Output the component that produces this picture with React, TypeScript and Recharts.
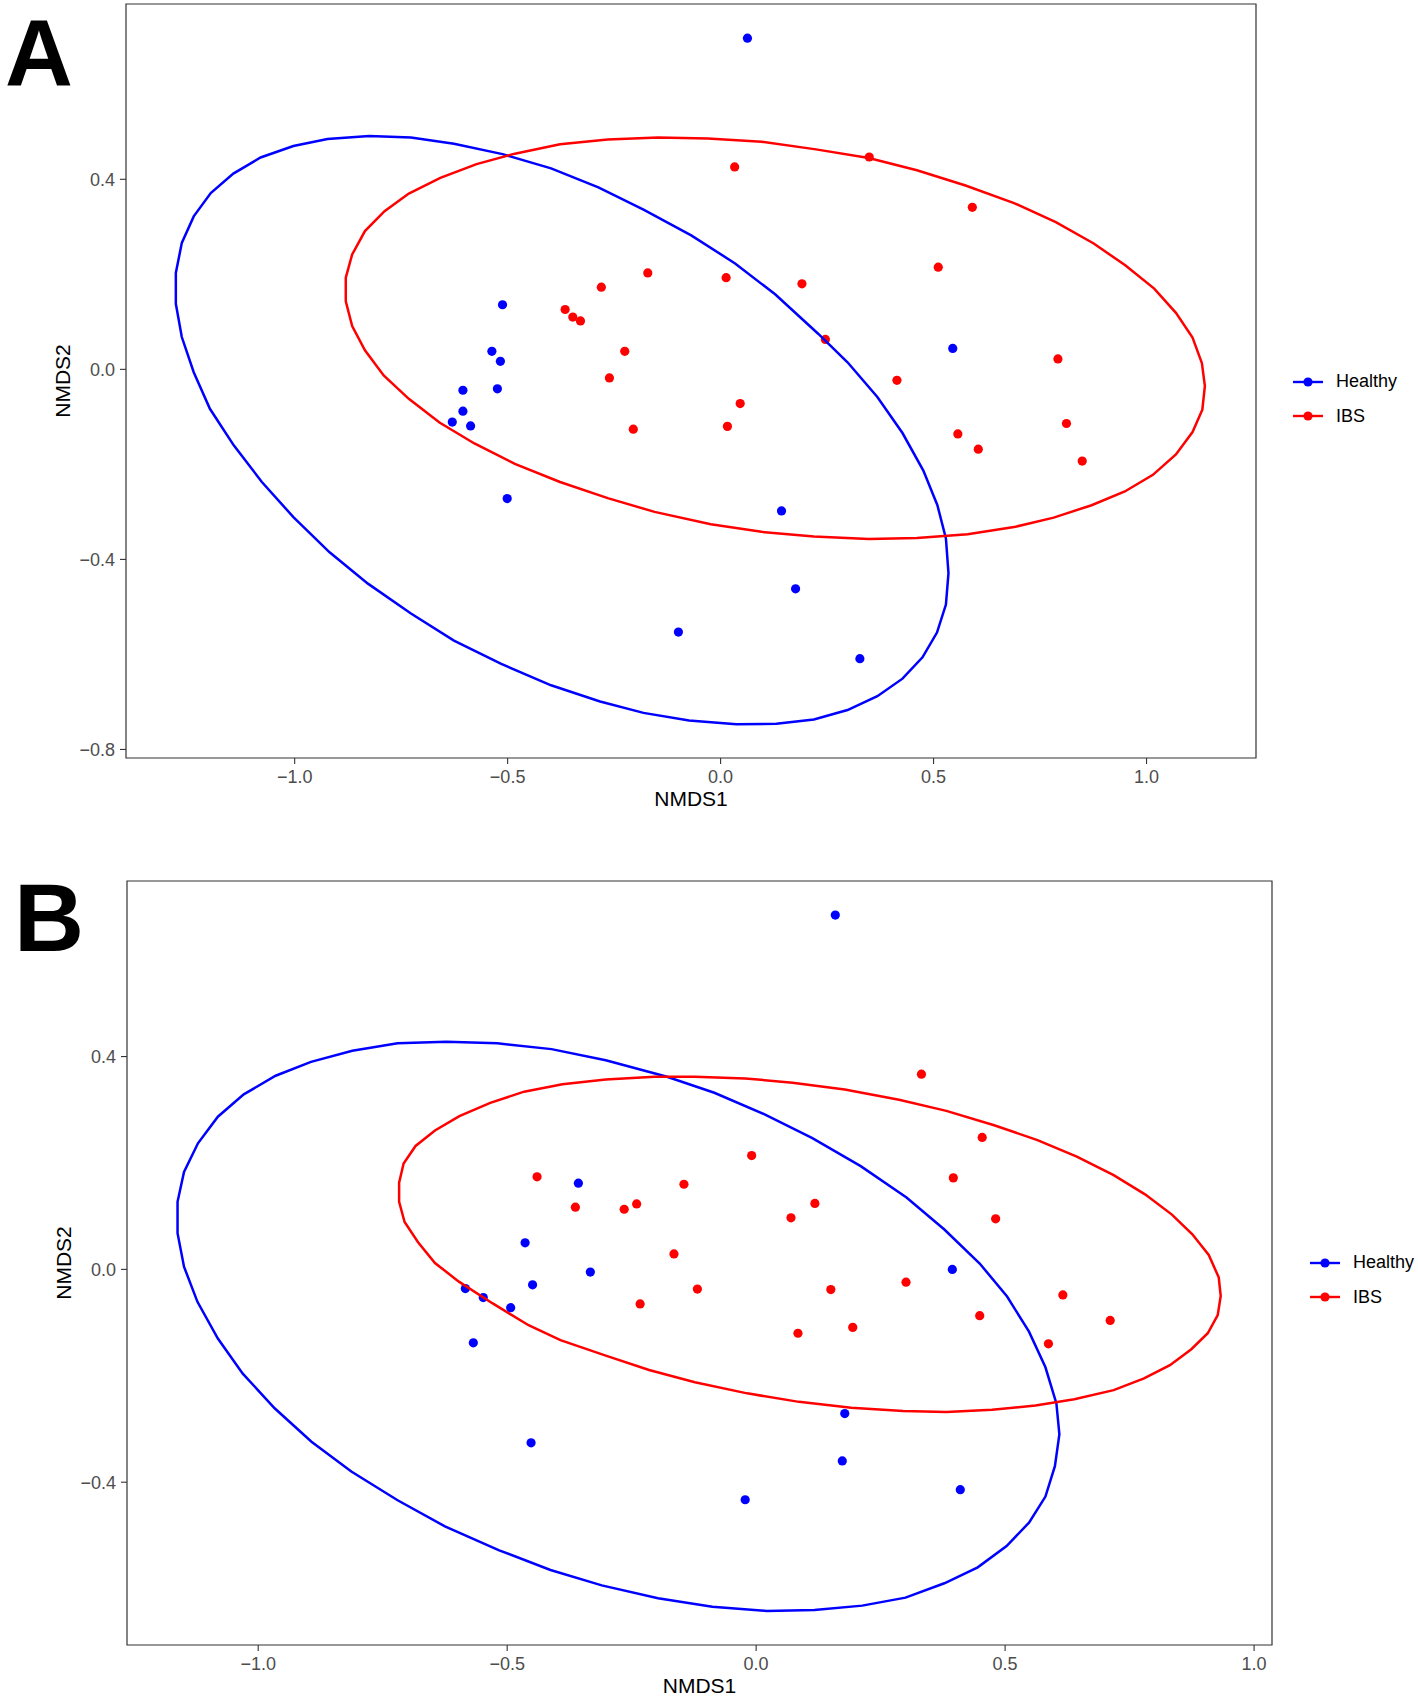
import React from 'react';
import { ScatterChart, Scatter, XAxis, YAxis, ReferenceArea, Legend } from 'recharts';

const BLUE = '#0000FF';
const RED = '#FF0000';
const FONT = '"Liberation Sans", Arial, Helvetica, sans-serif';

const groupNames = ['Healthy', 'IBS'];
const groupColors = [BLUE, RED];

// ---- panel A: NMDS scores ----
const healthyA = [
  [0.063, 0.697], [-0.512, 0.136], [-0.537, 0.038], [-0.517, 0.017], [-0.605, -0.044],
  [-0.524, -0.041], [-0.605, -0.088], [-0.630, -0.111], [-0.587, -0.119], [-0.501, -0.272],
  [-0.099, -0.553], [0.545, 0.044], [0.143, -0.298], [0.176, -0.462], [0.327, -0.609],
];
const ibsA = [
  [-0.171, 0.203], [-0.280, 0.173], [-0.365, 0.126], [-0.347, 0.110], [-0.329, 0.102],
  [-0.225, 0.038], [-0.261, -0.018], [-0.205, -0.126], [0.033, 0.426], [0.349, 0.447],
  [0.591, 0.341], [0.511, 0.215], [0.013, 0.193], [0.191, 0.180], [0.246, 0.063],
  [0.792, 0.022], [0.414, -0.023], [0.046, -0.072], [0.016, -0.120], [0.557, -0.136],
  [0.605, -0.168], [0.812, -0.114], [0.849, -0.193],
];
// ellipse outlines (stat_ellipse polygons)
const ellHealthyA = [
  [-0.825, 0.491], [-0.727, 0.488], [-0.626, 0.475], [-0.512, 0.453], [-0.398, 0.423],
  [-0.287, 0.383], [-0.181, 0.336], [-0.069, 0.282], [0.034, 0.223], [0.128, 0.158],
  [0.229, 0.075], [0.298, 0.015], [0.368, -0.058], [0.427, -0.134], [0.476, -0.213],
  [0.509, -0.286], [0.529, -0.356], [0.535, -0.429], [0.529, -0.495], [0.508, -0.554],
  [0.474, -0.606], [0.427, -0.651], [0.368, -0.688], [0.298, -0.717], [0.219, -0.737],
  [0.131, -0.746], [0.037, -0.747], [-0.074, -0.739], [-0.181, -0.723], [-0.283, -0.699],
  [-0.398, -0.665], [-0.515, -0.620], [-0.626, -0.571], [-0.727, -0.514], [-0.828, -0.451],
  [-0.918, -0.385], [-1.003, -0.311], [-1.077, -0.237], [-1.143, -0.160], [-1.199, -0.083],
  [-1.237, -0.006], [-1.265, 0.068], [-1.279, 0.138], [-1.279, 0.203], [-1.265, 0.266],
  [-1.237, 0.322], [-1.197, 0.371], [-1.144, 0.412], [-1.080, 0.446], [-1.003, 0.470],
  [-0.923, 0.485],
];
const ellIbsA = [
  [-0.030, 0.486], [0.096, 0.479], [0.224, 0.463], [0.348, 0.445], [0.461, 0.419],
  [0.575, 0.387], [0.689, 0.350], [0.787, 0.310], [0.876, 0.265], [0.950, 0.219],
  [1.018, 0.170], [1.069, 0.119], [1.108, 0.067], [1.130, 0.013], [1.137, -0.035],
  [1.131, -0.085], [1.108, -0.132], [1.069, -0.179], [1.015, -0.222], [0.949, -0.257],
  [0.871, -0.286], [0.782, -0.312], [0.689, -0.332], [0.580, -0.347], [0.461, -0.355],
  [0.348, -0.357], [0.219, -0.352], [0.096, -0.342], [-0.023, -0.326], [-0.155, -0.300],
  [-0.265, -0.271], [-0.377, -0.237], [-0.483, -0.199], [-0.578, -0.156], [-0.660, -0.112],
  [-0.732, -0.062], [-0.791, -0.013], [-0.835, 0.040], [-0.865, 0.091], [-0.880, 0.143],
  [-0.880, 0.193], [-0.865, 0.242], [-0.835, 0.291], [-0.789, 0.333], [-0.732, 0.370],
  [-0.658, 0.403], [-0.573, 0.432], [-0.483, 0.454], [-0.377, 0.474], [-0.265, 0.484],
  [-0.147, 0.488],
];
const xTicksA = [-1.0, -0.5, 0.0, 0.5, 1.0];
const yTicksA = [-0.8, -0.4, 0.0, 0.4];
const xDomainA = [-1.396, 1.257];
const yDomainA = [-0.818, 0.769];

// ---- panel B: NMDS scores ----
const healthyB = [
  [0.159, 0.666], [-0.357, 0.162], [-0.464, 0.050], [-0.333, -0.005], [-0.449, -0.029],
  [-0.584, -0.036], [-0.548, -0.053], [-0.493, -0.072], [-0.568, -0.138], [-0.452, -0.326],
  [0.394, 0.000], [0.178, -0.271], [0.173, -0.360], [-0.022, -0.433], [0.410, -0.414],
];
const ibsB = [
  [-0.440, 0.174], [-0.145, 0.160], [-0.363, 0.117], [-0.265, 0.113], [-0.240, 0.123],
  [-0.165, 0.029], [-0.233, -0.065], [-0.118, -0.037], [0.332, 0.367], [0.454, 0.248],
  [-0.009, 0.214], [0.396, 0.172], [0.118, 0.124], [0.070, 0.097], [0.481, 0.095],
  [0.150, -0.038], [0.301, -0.024], [0.084, -0.120], [0.194, -0.109], [0.449, -0.087],
  [0.616, -0.048], [0.711, -0.096], [0.587, -0.140],
];
const ellHealthyB = [
  [-0.622, 0.428], [-0.520, 0.425], [-0.411, 0.414], [-0.302, 0.393], [-0.179, 0.362],
  [-0.084, 0.332], [0.018, 0.291], [0.112, 0.247], [0.210, 0.194], [0.302, 0.135],
  [0.378, 0.075], [0.449, 0.011], [0.504, -0.051], [0.548, -0.117], [0.581, -0.184],
  [0.603, -0.252], [0.609, -0.310], [0.600, -0.370], [0.581, -0.427], [0.548, -0.476],
  [0.503, -0.520], [0.445, -0.560], [0.378, -0.590], [0.300, -0.617], [0.213, -0.632],
  [0.117, -0.640], [0.021, -0.642], [-0.088, -0.634], [-0.197, -0.618], [-0.310, -0.594],
  [-0.413, -0.565], [-0.516, -0.528], [-0.625, -0.483], [-0.720, -0.434], [-0.813, -0.380],
  [-0.893, -0.324], [-0.967, -0.261], [-1.031, -0.196], [-1.081, -0.130], [-1.122, -0.061],
  [-1.149, 0.005], [-1.162, 0.068], [-1.162, 0.127], [-1.149, 0.183], [-1.121, 0.237],
  [-1.081, 0.287], [-1.029, 0.329], [-0.965, 0.364], [-0.894, 0.390], [-0.811, 0.411],
  [-0.720, 0.425],
];
const ellIbsB = [
  [-0.123, 0.362], [-0.022, 0.359], [0.073, 0.351], [0.178, 0.338], [0.287, 0.319],
  [0.382, 0.298], [0.478, 0.271], [0.565, 0.243], [0.644, 0.212], [0.718, 0.177],
  [0.781, 0.141], [0.835, 0.103], [0.876, 0.066], [0.909, 0.027], [0.929, -0.015],
  [0.933, -0.050], [0.927, -0.086], [0.907, -0.120], [0.874, -0.150], [0.831, -0.180],
  [0.779, -0.205], [0.718, -0.227], [0.639, -0.244], [0.561, -0.256], [0.474, -0.264],
  [0.382, -0.268], [0.295, -0.266], [0.191, -0.260], [0.086, -0.249], [-0.018, -0.233],
  [-0.123, -0.212], [-0.215, -0.189], [-0.302, -0.162], [-0.393, -0.133], [-0.457, -0.105],
  [-0.529, -0.064], [-0.597, -0.023], [-0.645, 0.012], [-0.679, 0.051], [-0.706, 0.089],
  [-0.717, 0.127], [-0.717, 0.163], [-0.708, 0.199], [-0.684, 0.232], [-0.645, 0.261],
  [-0.596, 0.288], [-0.534, 0.313], [-0.466, 0.334], [-0.389, 0.348], [-0.302, 0.357],
  [-0.204, 0.362],
];
const xTicksB = [-1.0, -0.5, 0.0, 0.5, 1.0];
const yTicksB = [-0.4, 0.0, 0.4];
const xDomainB = [-1.2635, 1.036];
const yDomainB = [-0.706, 0.730];

const toPts = (arr: number[][]) => arr.map(([x, y]) => ({ x, y }));
const closed = (arr: number[][]) => toPts([...arr, arr[0]]);
const fmt = (v: number) => v.toFixed(1).replace('-', '\u2212');

const Dot = (color: string) => (props: any) =>
  <circle cx={props.cx} cy={props.cy} r={4.6} fill={color} />;
const NoDot = () => <g />;

const KeyLegend = () => (
  <div style={{ fontFamily: FONT, fontSize: 18, color: '#000' }}>
    {groupNames.map((name, i) => (
      <div key={name} style={{ display: 'flex', alignItems: 'center', height: 34.5 }}>
        <svg width={30} height={12}>
          <line x1={0} y1={6} x2={30} y2={6} stroke={groupColors[i]} strokeWidth={2.4} />
          <circle cx={15} cy={6} r={4.6} fill={groupColors[i]} />
        </svg>
        <span style={{ marginLeft: 13 }}>{name}</span>
      </div>
    ))}
  </div>
);

interface PanelProps {
  healthy: number[][];
  ibs: number[][];
  ellHealthy: number[][];
  ellIbs: number[][];
  xTicks: number[];
  yTicks: number[];
  xDomain: number[];
  yDomain: number[];
  height: number;
  margin: { top: number; right: number; bottom: number; left: number };
  yAxisWidth: number;
  xAxisHeight: number;
  legendLeft: number;
  legendTop: number;
}

const NmdsPanel = (p: PanelProps) => (
  <ScatterChart width={1418} height={p.height} margin={p.margin}>
    <XAxis
      type="number"
      dataKey="x"
      domain={p.xDomain}
      allowDataOverflow
      ticks={p.xTicks}
      interval={0}
      tickFormatter={fmt}
      axisLine={false}
      tickLine={{ stroke: '#333333', strokeWidth: 1.1 }}
      tickSize={6}
      tickMargin={6}
      height={p.xAxisHeight}
      tick={{ fill: '#4D4D4D', fontSize: 18, fontFamily: FONT }}
      label={{ value: 'NMDS1', position: 'insideBottom', offset: 5, fill: '#000', fontSize: 21, fontFamily: FONT }}
    />
    <YAxis
      type="number"
      dataKey="y"
      domain={p.yDomain}
      allowDataOverflow
      ticks={p.yTicks}
      interval={0}
      tickFormatter={fmt}
      axisLine={false}
      tickLine={{ stroke: '#333333', strokeWidth: 1.1 }}
      tickSize={6}
      tickMargin={5}
      width={p.yAxisWidth}
      tick={{ fill: '#4D4D4D', fontSize: 18, fontFamily: FONT }}
      label={{ value: 'NMDS2', angle: -90, position: 'center', fill: '#000', fontSize: 21, fontFamily: FONT }}
    />
    <Scatter name="Healthy" data={toPts(p.healthy)} shape={Dot(BLUE)} isAnimationActive={false} />
    <Scatter name="IBS" data={toPts(p.ibs)} shape={Dot(RED)} isAnimationActive={false} />
    <Scatter data={closed(p.ellHealthy)} line={{ stroke: BLUE, strokeWidth: 2.5 }} lineType="joint"
      shape={NoDot} legendType="none" isAnimationActive={false} />
    <Scatter data={closed(p.ellIbs)} line={{ stroke: RED, strokeWidth: 2.5 }} lineType="joint"
      shape={NoDot} legendType="none" isAnimationActive={false} />
    <ReferenceArea
      x1={p.xDomain[0]} x2={p.xDomain[1]} y1={p.yDomain[0]} y2={p.yDomain[1]}
      fill="none" fillOpacity={0} stroke="#333333" strokeWidth={1.2} ifOverflow="visible"
    />
    <Legend
      layout="vertical"
      align="center"
      verticalAlign="middle"
      wrapperStyle={{ left: p.legendLeft, top: p.legendTop }}
      content={<KeyLegend />}
    />
  </ScatterChart>
);

const App = () => (
  <div style={{ position: 'absolute', left: 0, top: 0, width: 1418, height: 1698, background: '#fff' }}>
    <NmdsPanel
      healthy={healthyA} ibs={ibsA} ellHealthy={ellHealthyA} ellIbs={ellIbsA}
      xTicks={xTicksA} yTicks={yTicksA} xDomain={xDomainA} yDomain={yDomainA}
      height={850} margin={{ top: 4, right: 162, bottom: 39, left: 0 }}
      yAxisWidth={126} xAxisHeight={53} legendLeft={1293} legendTop={364.5}
    />
    <NmdsPanel
      healthy={healthyB} ibs={ibsB} ellHealthy={ellHealthyB} ellIbs={ellIbsB}
      xTicks={xTicksB} yTicks={yTicksB} xDomain={xDomainB} yDomain={yDomainB}
      height={848} margin={{ top: 31, right: 146, bottom: 0, left: 0 }}
      yAxisWidth={127} xAxisHeight={53} legendLeft={1310} legendTop={395.5}
    />
    <svg width={1418} height={1698} style={{ position: 'absolute', left: 0, top: 0, pointerEvents: 'none' }}>
      <text x={5} y={86} fontFamily={FONT} fontWeight="bold" fontSize={94} fill="#000">A</text>
      <text x={14} y={951} fontFamily={FONT} fontWeight="bold" fontSize={97} fill="#000">B</text>
    </svg>
  </div>
);

export default App;
